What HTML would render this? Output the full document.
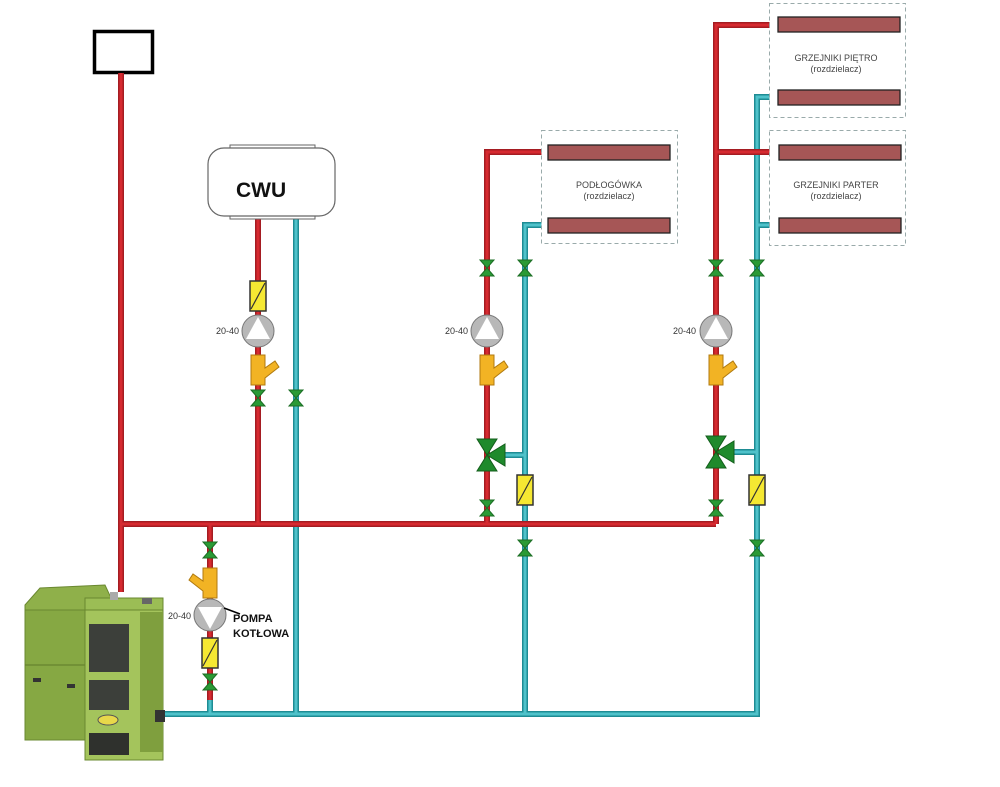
<!DOCTYPE html>
<html><head><meta charset="utf-8"><style>
html,body{margin:0;padding:0;background:#fff;width:1000px;height:787px;overflow:hidden}
svg{display:block}
text{font-family:"Liberation Sans",sans-serif}
</style></head><body>
<svg width="1000" height="787" viewBox="0 0 1000 787" xmlns="http://www.w3.org/2000/svg">
<defs>
<g id="valve"><polygon points="-7,-8 7,-8 0,0" fill="#2a9a35" stroke="#1c6e25" stroke-width="1"/><polygon points="-7,8 7,8 0,0" fill="#2a9a35" stroke="#1c6e25" stroke-width="1"/></g>
<g id="sensor"><rect x="-8" y="-15" width="16" height="30" fill="#f5e832" stroke="#333" stroke-width="1.5"/><line x1="-7" y1="13" x2="7" y2="-13" stroke="#333" stroke-width="1.2"/></g>
<g id="pump"><circle r="16" fill="#b8b8b8" stroke="#777" stroke-width="1"/><polygon points="0,-14 12,8 -12,8" fill="#fff"/></g>
<g id="pumpd"><circle r="16" fill="#b8b8b8" stroke="#777" stroke-width="1"/><polygon points="0,14 12,-8 -12,-8" fill="#fff"/></g>
<g id="strainer"><path d="M-7,-15 L7,-15 L7,-2 L17,-9 L21,-3 L7,8 L7,15 L-7,15 Z" fill="#f2b324" stroke="#b07a10" stroke-width="1"/></g>
<g id="strainerm"><path d="M7,-15 L-7,-15 L-7,-2 L-17,-9 L-21,-3 L-7,8 L-7,15 L7,15 Z" fill="#f2b324" stroke="#b07a10" stroke-width="1"/></g>
<g id="three"><polygon points="-10,-16 10,-16 0,0" fill="#1f8a2c" stroke="#135e1b"/><polygon points="-10,16 10,16 0,0" fill="#1f8a2c" stroke="#135e1b"/><polygon points="0,0 18,-11 18,11" fill="#1f8a2c" stroke="#135e1b"/></g>
</defs>

<rect x="94.5" y="31.5" width="58" height="41" fill="#fff" stroke="#000" stroke-width="3.5"/>

<g fill="none" stroke-linejoin="miter">
<g stroke="#1e8c94" stroke-width="6">
<path d="M160,714 H757 V97 H778"/><path d="M757,225 H779"/>
<path d="M296,216 V714"/><path d="M525,714 V225 H548"/><path d="M525,455 H500"/><path d="M757,452 H730"/><path d="M210,714 V700"/>
</g>
<g stroke="#4fc2ca" stroke-width="3">
<path d="M160,714 H757 V97 H778"/><path d="M757,225 H779"/>
<path d="M296,216 V714"/><path d="M525,714 V225 H548"/><path d="M525,455 H500"/><path d="M757,452 H730"/><path d="M210,714 V700"/>
</g>
<g stroke="#a51c22" stroke-width="6">
<path d="M121,73 V592"/><path d="M121,524 H716"/><path d="M716,524 V25 H778"/><path d="M716,152 H779"/>
<path d="M258,216 V524"/><path d="M487,524 V152 H548"/><path d="M210,524 V700"/>
</g>
<g stroke="#d62a30" stroke-width="3">
<path d="M121,73 V592"/><path d="M121,524 H716"/><path d="M716,524 V25 H778"/><path d="M716,152 H779"/>
<path d="M258,216 V524"/><path d="M487,524 V152 H548"/><path d="M210,524 V700"/>
</g>
</g>

<rect x="230" y="145" width="85" height="6" fill="#fff" stroke="#666"/>
<rect x="230" y="214" width="85" height="5" fill="#fff" stroke="#666"/>
<rect x="208" y="148" width="127" height="68" rx="16" fill="#fff" stroke="#666" stroke-width="1.2"/>
<text x="236" y="197" font-size="21" font-weight="bold" fill="#111">CWU</text>

<g fill="#fff" stroke="#9aa" stroke-dasharray="4,3" stroke-width="1">
<rect x="541.5" y="130.5" width="136" height="113"/>
<rect x="769.5" y="3.5" width="136" height="114"/>
<rect x="769.5" y="130.5" width="136" height="115"/>
</g>
<g fill="#a65656" stroke="#222" stroke-width="1.3">
<rect x="548" y="145" width="122" height="15"/><rect x="548" y="218" width="122" height="15"/>
<rect x="778" y="17" width="122" height="15"/><rect x="778" y="90" width="122" height="15"/>
<rect x="779" y="145" width="122" height="15"/><rect x="779" y="218" width="122" height="15"/>
</g>
<g font-size="9" fill="#444" text-anchor="middle">
<text x="609" y="188">PODŁOGÓWKA</text><text x="609" y="199">(rozdzielacz)</text>
<text x="836" y="61">GRZEJNIKI PIĘTRO</text><text x="836" y="72">(rozdzielacz)</text>
<text x="836" y="188">GRZEJNIKI PARTER</text><text x="836" y="199">(rozdzielacz)</text>
</g>

<use href="#sensor" x="258" y="296"/><use href="#pump" x="258" y="331"/><use href="#strainer" x="258" y="370"/>
<use href="#valve" x="258" y="398"/><use href="#valve" x="296" y="398"/>
<use href="#valve" x="487" y="268"/><use href="#valve" x="525" y="268"/>
<use href="#pump" x="487" y="331"/><use href="#strainer" x="487" y="370"/>
<use href="#three" x="487" y="455"/><use href="#sensor" x="525" y="490"/>
<use href="#valve" x="487" y="508"/><use href="#valve" x="525" y="548"/>
<use href="#valve" x="716" y="268"/><use href="#valve" x="757" y="268"/>
<use href="#pump" x="716" y="331"/><use href="#strainer" x="716" y="370"/>
<use href="#three" x="716" y="452"/><use href="#sensor" x="757" y="490"/>
<use href="#valve" x="716" y="508"/><use href="#valve" x="757" y="548"/>
<use href="#valve" x="210" y="550"/><use href="#strainerm" x="210" y="583"/>
<use href="#pumpd" x="210" y="615"/><use href="#sensor" x="210" y="653"/><use href="#valve" x="210" y="682"/>
<line x1="224" y1="608" x2="240" y2="614" stroke="#000" stroke-width="1.5"/>
<g font-size="9" fill="#333" font-family="Liberation Serif">
<text x="216" y="334">20-40</text><text x="445" y="334">20-40</text><text x="673" y="334">20-40</text><text x="168" y="619">20-40</text>
</g>
<text x="233" y="622" font-size="11" font-weight="bold" fill="#111">POMPA</text>
<text x="233" y="637" font-size="11" font-weight="bold" fill="#111">KOTŁOWA</text>

<g>
<polygon points="25,605 40,588 105,585 112,600 88,612 25,612" fill="#8fb04a" stroke="#6a8830"/>
<rect x="25" y="610" width="62" height="130" fill="#86a843" stroke="#6a8830"/>
<line x1="25" y1="665" x2="87" y2="665" stroke="#5e7a2a"/>
<rect x="85" y="598" width="78" height="14" fill="#9bbd55" stroke="#6a8830"/>
<rect x="85" y="610" width="78" height="150" fill="#a4c45c" stroke="#6a8830"/>
<rect x="140" y="612" width="23" height="140" fill="#7f9f3e"/>
<rect x="89" y="624" width="40" height="48" fill="#3c3f3a"/>
<rect x="89" y="680" width="40" height="30" fill="#3c3f3a"/>
<rect x="89" y="733" width="40" height="22" fill="#2f312d"/>
<ellipse cx="108" cy="720" rx="10" ry="5" fill="#e8d84a" stroke="#555"/>
<rect x="33" y="678" width="8" height="4" fill="#333"/><rect x="67" y="684" width="8" height="4" fill="#333"/>
<rect x="110" y="592" width="8" height="8" fill="#aaa"/><rect x="142" y="598" width="10" height="6" fill="#666"/>
<rect x="155" y="710" width="10" height="12" fill="#333"/>
</g>
</svg>
</body></html>
